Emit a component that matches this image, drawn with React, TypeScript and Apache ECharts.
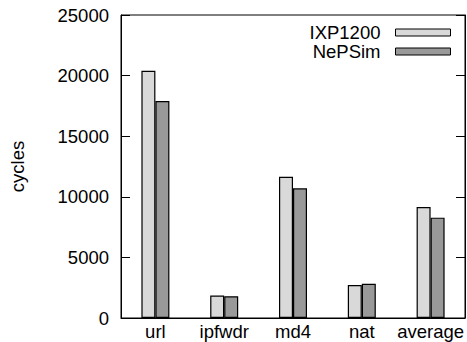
import React, { useEffect, useRef } from "react";
import * as echarts from "echarts";

const categories = ["url", "ipfwdr", "md4", "nat", "average"];
const ixp1200 = [20400, 1850, 11660, 2720, 9160];
const nepsim = [17900, 1800, 10700, 2830, 8280];
const yTicks = [0, 5000, 10000, 15000, 20000, 25000];

const FONT = "Liberation Sans, Arial, Helvetica, sans-serif";
const FS = 18.5;

export default function App() {
  const ref = useRef<HTMLDivElement>(null);
  useEffect(() => {
    if (!ref.current) return;
    const chart = echarts.init(ref.current, undefined, { renderer: "svg" });
    const yMax = yTicks[yTicks.length - 1];
    const yInterval = yTicks[1] - yTicks[0];
    chart.setOption({
      animation: false,
      backgroundColor: "#ffffff",
      textStyle: { fontFamily: FONT, color: "#000" },
      grid: {
        left: 120,
        right: 2,
        top: 15,
        bottom: 24,
        show: true,
        borderColor: "#000",
        borderWidth: 1,
        backgroundColor: "transparent",
      },
      legend: {
        orient: "vertical",
        right: 11,
        top: 18,
        align: "right",
        itemWidth: 55,
        itemHeight: 7,
        itemGap: 0,
        icon: "rect",
        textStyle: { fontFamily: FONT, fontSize: FS, color: "#000", padding: [0, 10, 0, 0] },
        data: [
          { name: "IXP1200", itemStyle: { color: "#d9d9d9", borderColor: "#000", borderWidth: 1 } },
          { name: "NePSim", itemStyle: { color: "#999999", borderColor: "#000", borderWidth: 1 } },
        ],
      },
      xAxis: {
        type: "category",
        data: categories,
        boundaryGap: true,
        axisLine: { show: true, lineStyle: { color: "#000", width: 1 } },
        axisTick: { show: false },
        axisLabel: { fontFamily: FONT, fontSize: FS, color: "#000", margin: 4, interval: 0, hideOverlap: false },
      },
      yAxis: [
        {
          type: "value",
          min: 0,
          max: yMax,
          interval: yInterval,
          name: "cycles",
          nameLocation: "middle",
          nameGap: 94,
          nameTextStyle: { fontFamily: FONT, fontSize: FS, color: "#000" },
          axisLine: { show: true, lineStyle: { color: "#000", width: 1 } },
          axisTick: { show: true, inside: true, length: 9, lineStyle: { color: "#000" } },
          axisLabel: {
            fontFamily: FONT,
            fontSize: FS,
            color: "#000",
            margin: 12,
            formatter: (v: number) => String(v),
          },
          splitLine: { show: false },
        },
        {
          type: "value",
          position: "right",
          min: 0,
          max: yMax,
          interval: yInterval,
          axisLine: { show: true, lineStyle: { color: "#000", width: 1 } },
          axisTick: { show: true, inside: true, length: 9, lineStyle: { color: "#000" } },
          axisLabel: { show: false },
          splitLine: { show: false },
        },
      ],
      series: [
        {
          name: "IXP1200",
          type: "bar",
          data: ixp1200,
          barWidth: 14,
          barGap: "0%",
          itemStyle: { color: "#d9d9d9", borderColor: "#000", borderWidth: 1.2 },
        },
        {
          name: "NePSim",
          type: "bar",
          data: nepsim,
          barWidth: 14,
          barGap: "0%",
          itemStyle: { color: "#999999", borderColor: "#000", borderWidth: 1.2 },
        },
      ],
    });
    return () => chart.dispose();
  }, []);
  return <div ref={ref} style={{ width: 467, height: 342, position: "fixed", left: 0, top: 0 }} />;
}
